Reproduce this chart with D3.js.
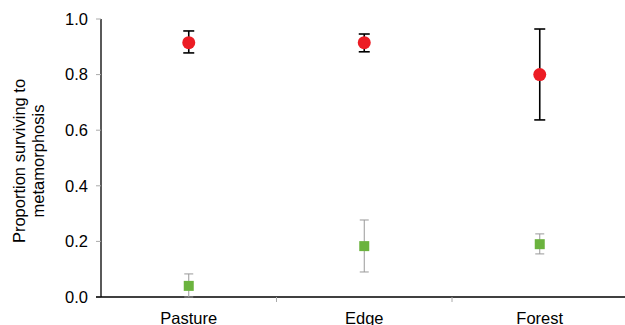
<!DOCTYPE html>
<html><head><meta charset="utf-8">
<script src="https://cdn.jsdelivr.net/npm/d3@7"></script>
<style>body{margin:0;background:#fff}svg{display:block}text{font-family:"Liberation Sans",Arial,sans-serif}</style>
</head><body><svg id="c" width="625" height="325"></svg>
<script>
const categories = ["Pasture", "Edge", "Forest"];
const redMean = [0.915, 0.915, 0.80];
const redLow = [0.878, 0.882, 0.637];
const redHigh = [0.957, 0.946, 0.964];
const greenMean = [0.04, 0.183, 0.19];
const greenLow = [0.0, 0.09, 0.155];
const greenHigh = [0.083, 0.277, 0.227];
const yTicks = [0, 0.2, 0.4, 0.6, 0.8, 1.0];

const svg = d3.select("#c");
const x = d3.scaleBand().domain(categories).range([101, 627.5]);
const y = d3.scaleLinear().domain([0, 1]).range([297, 19]);

// y axis
svg.append("line").attr("x1",101).attr("x2",101).attr("y1",y(1)).attr("y2",y(0)).attr("stroke","#000").attr("stroke-width",1.3);
svg.selectAll(".yt").data(yTicks).enter().append("line")
  .attr("x1",96).attr("x2",101).attr("y1",d=>y(d)).attr("y2",d=>y(d)).attr("stroke","#aaa").attr("stroke-width",1);
svg.selectAll(".yl").data(yTicks).enter().append("text")
  .attr("x",88).attr("y",d=>y(d)).attr("dy","0.35em").attr("text-anchor","end")
  .attr("font-size",16.5).attr("fill","#000").text(d=>d.toFixed(1));

// x axis
svg.append("line").attr("x1",96).attr("x2",625).attr("y1",297).attr("y2",297).attr("stroke","#000").attr("stroke-width",1.3);
svg.selectAll(".xt").data(categories.slice(1)).enter().append("line")
  .attr("x1",d=>x(d)).attr("x2",d=>x(d)).attr("y1",297).attr("y2",302).attr("stroke","#aaa").attr("stroke-width",1);
svg.selectAll(".xl").data(categories).enter().append("text")
  .attr("x",d=>x(d)+x.bandwidth()/2).attr("y",318).attr("dy","0.35em").attr("text-anchor","middle")
  .attr("font-size",16.5).attr("fill","#000").text(d=>d);

// y title
const yt = svg.append("text").attr("transform","translate(0,161) rotate(-90)").attr("text-anchor","middle").attr("font-size",16.5).attr("fill","#000");
yt.append("tspan").attr("x",0).attr("y",25).text("Proportion surviving to");
yt.append("tspan").attr("x",0).attr("y",44).text("metamorphosis");

const cx = i => x(categories[i]) + x.bandwidth()/2;

// green error bars
categories.forEach((c,i)=>{
  const g = svg.append("g").attr("stroke","#999").attr("stroke-width",1);
  g.append("line").attr("x1",cx(i)).attr("x2",cx(i)).attr("y1",y(greenLow[i])).attr("y2",y(greenHigh[i]));
  g.append("line").attr("x1",cx(i)-4.5).attr("x2",cx(i)+4.5).attr("y1",y(greenLow[i])).attr("y2",y(greenLow[i]));
  g.append("line").attr("x1",cx(i)-4.5).attr("x2",cx(i)+4.5).attr("y1",y(greenHigh[i])).attr("y2",y(greenHigh[i]));
  svg.append("rect").attr("x",cx(i)-5).attr("y",y(greenMean[i])-5).attr("width",10).attr("height",10).attr("fill","#6bb33e");
});
// red error bars
categories.forEach((c,i)=>{
  const g = svg.append("g").attr("stroke","#000").attr("stroke-width",1.6);
  g.append("line").attr("x1",cx(i)).attr("x2",cx(i)).attr("y1",y(redLow[i])).attr("y2",y(redHigh[i]));
  g.append("line").attr("x1",cx(i)-5.5).attr("x2",cx(i)+5.5).attr("y1",y(redLow[i])).attr("y2",y(redLow[i]));
  g.append("line").attr("x1",cx(i)-5.5).attr("x2",cx(i)+5.5).attr("y1",y(redHigh[i])).attr("y2",y(redHigh[i]));
  svg.append("circle").attr("cx",cx(i)).attr("cy",y(redMean[i])).attr("r",6.5).attr("fill","#ec1c24");
});
</script></body></html>
